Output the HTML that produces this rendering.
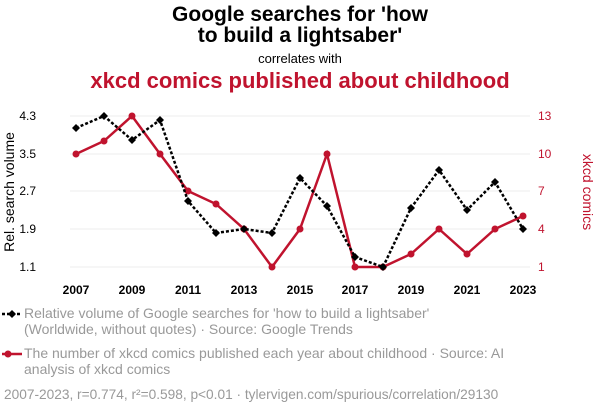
<!DOCTYPE html>
<html><head><meta charset="utf-8"><style>
body{margin:0;background:#fff;width:600px;height:414px;overflow:hidden;font-family:"Liberation Sans",sans-serif}
</style></head><body>
<svg width="600" height="414" xmlns="http://www.w3.org/2000/svg" font-family="Liberation Sans, sans-serif">
<text x="300" y="21" text-anchor="middle" font-size="21" font-weight="bold" fill="#000">Google searches for 'how</text>
<text x="300" y="42" text-anchor="middle" font-size="21" font-weight="bold" fill="#000">to build a lightsaber'</text>
<text x="300" y="63" text-anchor="middle" font-size="13" fill="#000">correlates with</text>
<text x="300" y="88" text-anchor="middle" font-size="22" font-weight="bold" fill="#c0132e">xkcd comics published about childhood</text>
<g stroke="#eee" stroke-width="1">
<line x1="70" x2="530" y1="116" y2="116"/><line x1="70" x2="530" y1="154" y2="154"/><line x1="70" x2="530" y1="191" y2="191"/><line x1="70" x2="530" y1="229" y2="229"/><line x1="70" x2="530" y1="267" y2="267"/>
</g>
<g font-size="12" fill="#000" text-anchor="end">
<text x="36" y="120">4.3</text><text x="36" y="158">3.5</text><text x="36" y="195">2.7</text><text x="36" y="233">1.9</text><text x="36" y="271">1.1</text>
</g>
<g font-size="12" fill="#c0132e" text-anchor="start">
<text x="538" y="120">13</text><text x="538" y="158">10</text><text x="538" y="195">7</text><text x="538" y="233">4</text><text x="538" y="271">1</text>
</g>
<text transform="translate(14,192) rotate(-90)" text-anchor="middle" font-size="14" fill="#000">Rel. search volume</text>
<text transform="translate(583,192) rotate(90)" text-anchor="middle" font-size="14" fill="#c0132e">xkcd comics</text>
<g font-size="12" font-weight="bold" fill="#000" text-anchor="middle">
<text x="76" y="294">2007</text><text x="132" y="294">2009</text><text x="188" y="294">2011</text><text x="244" y="294">2013</text><text x="300" y="294">2015</text><text x="355" y="294">2017</text><text x="411" y="294">2019</text><text x="467" y="294">2021</text><text x="523" y="294">2023</text>
</g>
<polyline fill="none" stroke="#c0132e" stroke-width="2.5" points="76,154 104,141 132,116 160,154 188,191 216,204 244,229 272,267 300,229 327,154 355,267 383,267 411,254 439,229 467,254 495,229 523,216"/>
<g fill="#c0132e">
<circle cx="76" cy="154" r="3.5"/><circle cx="104" cy="141" r="3.5"/><circle cx="132" cy="116" r="3.5"/><circle cx="160" cy="154" r="3.5"/><circle cx="188" cy="191" r="3.5"/><circle cx="216" cy="204" r="3.5"/><circle cx="244" cy="229" r="3.5"/><circle cx="272" cy="267" r="3.5"/><circle cx="300" cy="229" r="3.5"/><circle cx="327" cy="154" r="3.5"/><circle cx="355" cy="267" r="3.5"/><circle cx="383" cy="267" r="3.5"/><circle cx="411" cy="254" r="3.5"/><circle cx="439" cy="229" r="3.5"/><circle cx="467" cy="254" r="3.5"/><circle cx="495" cy="229" r="3.5"/><circle cx="523" cy="216" r="3.5"/>
</g>
<polyline fill="none" stroke="#000" stroke-width="2.5" stroke-dasharray="3,2" points="76,128 104,116 132,140 160,120 188,201 216,233 244,229 272,233 300,178 327,206 355,257 383,267 411,208 439,170 467,210 495,182 523,229"/>
<g fill="#000">
<path d="M76,124l4,4l-4,4l-4,-4z"/><path d="M104,112l4,4l-4,4l-4,-4z"/><path d="M132,136l4,4l-4,4l-4,-4z"/><path d="M160,116l4,4l-4,4l-4,-4z"/><path d="M188,197l4,4l-4,4l-4,-4z"/><path d="M216,229l4,4l-4,4l-4,-4z"/><path d="M244,225l4,4l-4,4l-4,-4z"/><path d="M272,229l4,4l-4,4l-4,-4z"/><path d="M300,174l4,4l-4,4l-4,-4z"/><path d="M327,202l4,4l-4,4l-4,-4z"/><path d="M355,253l4,4l-4,4l-4,-4z"/><path d="M383,263l4,4l-4,4l-4,-4z"/><path d="M411,204l4,4l-4,4l-4,-4z"/><path d="M439,166l4,4l-4,4l-4,-4z"/><path d="M467,206l4,4l-4,4l-4,-4z"/><path d="M495,178l4,4l-4,4l-4,-4z"/><path d="M523,225l4,4l-4,4l-4,-4z"/>
</g>
<line x1="2" x2="22" y1="314" y2="314" stroke="#000" stroke-width="2.5" stroke-dasharray="3,2"/>
<path d="M12,310l4,4l-4,4l-4,-4z" fill="#000"/>
<text x="24" y="318" font-size="14" fill="#999">Relative volume of Google searches for 'how to build a lightsaber'</text>
<text x="24" y="334" font-size="14" fill="#999">(Worldwide, without quotes) · Source: Google Trends</text>
<line x1="2" x2="22" y1="354" y2="354" stroke="#c0132e" stroke-width="2.5"/>
<circle cx="8" cy="354" r="3.5" fill="#c0132e"/>
<text x="24" y="358" font-size="14" fill="#999">The number of xkcd comics published each year about childhood · Source: AI</text>
<text x="24" y="374" font-size="14" fill="#999">analysis of xkcd comics</text>
<text x="4" y="399" font-size="13.7" fill="#999">2007-2023, r=0.774, r²=0.598, p&lt;0.01 · tylervigen.com/spurious/correlation/29130</text>
</svg>
</body></html>
